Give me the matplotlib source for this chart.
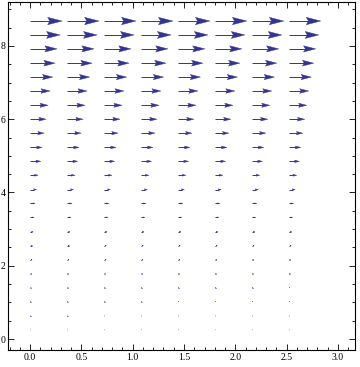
import numpy as np
import matplotlib.pyplot as plt
from matplotlib.collections import LineCollection, PolyCollection
from matplotlib.ticker import MultipleLocator

# grid of sample points (arrow tails)
xs = [0.0, 0.36, 0.72, 1.08, 1.44, 1.80, 2.16, 2.52]
ys = [0.25, 0.63, 1.02, 1.40, 1.78, 2.17, 2.55, 2.93, 3.32, 3.70, 4.08, 4.47,
      4.85, 5.23, 5.62, 6.00, 6.38, 6.77, 7.15, 7.53, 7.92, 8.30, 8.68]
# arrow length per row (x data units), bottom to top
lengths = [0.006, 0.008, 0.010, 0.012, 0.015, 0.020, 0.024, 0.029, 0.039, 0.049,
           0.063, 0.078, 0.104, 0.117, 0.137, 0.156, 0.176, 0.195, 0.221, 0.244,
           0.263, 0.293, 0.312]

col = '#34348f'

fig = plt.figure(figsize=(3.6, 3.67), dpi=100)
ax = fig.add_axes([0.0236, 0.0463, 0.9625, 0.9483])
ax.set_xlim(-0.21, 3.166)
ax.set_ylim(-0.3, 9.2)

# pixel -> data ratios to keep heads shaped the same in both directions
xpp = (3.166 + 0.21) / (360 * 0.9625)
ypp = (9.2 + 0.3) / (367 * 0.9483)

shafts, heads = [], []
for y, L in zip(ys, lengths):
    h = 0.45 * L                      # head length
    w = 0.115 * L / xpp * ypp         # half head width in y units
    for x in xs:
        tip = x + L
        shafts.append([(x, y), (tip - 0.85 * h, y)])
        heads.append([(tip, y), (tip - h, y + w), (tip - 0.85 * h, y), (tip - h, y - w)])

ax.add_collection(LineCollection(shafts, colors=col, linewidths=0.7))
ax.add_collection(PolyCollection(heads, facecolors=col, edgecolors=col, linewidths=0.3))

ax.xaxis.set_major_locator(MultipleLocator(0.5))
ax.xaxis.set_minor_locator(MultipleLocator(0.1))
ax.yaxis.set_major_locator(MultipleLocator(2))
ax.yaxis.set_minor_locator(MultipleLocator(0.5))
ax.xaxis.set_major_formatter(lambda v, p: f"{v:.1f}")
ax.yaxis.set_major_formatter(lambda v, p: f"{v:.0f}")
ax.tick_params(which='both', direction='in', top=True, right=True,
               labelsize=7, pad=2, width=0.6)
ax.tick_params(which='major', length=4)
ax.tick_params(which='minor', length=2)
for lab in ax.get_xticklabels() + ax.get_yticklabels():
    lab.set_fontfamily('Liberation Serif')
for s in ax.spines.values():
    s.set_linewidth(0.8)

fig.savefig('out.png', dpi=100)
